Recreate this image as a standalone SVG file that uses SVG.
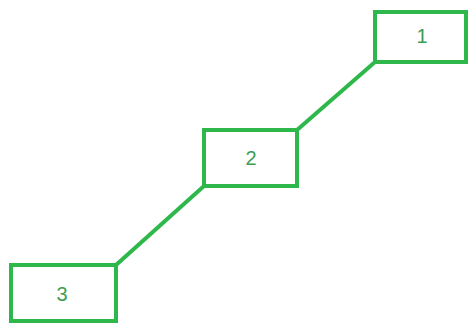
<svg xmlns="http://www.w3.org/2000/svg" width="468" height="325" viewBox="0 0 468 325">
<style>
.box{fill:none;stroke:#2eb84b;stroke-width:4}
.edge{stroke:#2eb84b;stroke-width:4;fill:none}
.lbl{font-family:"Liberation Sans",Arial,sans-serif;font-size:20px;fill:#3c9c55;text-anchor:middle;dominant-baseline:central}
</style>
<rect width="468" height="325" fill="#ffffff"/>
<g id="connectors">
<line class="edge" x1="375" y1="62" x2="297" y2="130"/>
<line class="edge" x1="204" y1="186" x2="116" y2="265"/>
</g>
<g id="node1">
<rect class="box" x="375" y="12" width="91" height="50"/>
<text class="lbl" x="422" y="36">1</text>
</g>
<g id="node2">
<rect class="box" x="204" y="130" width="93" height="56"/>
<text class="lbl" x="251" y="158">2</text>
</g>
<g id="node3">
<rect class="box" x="11" y="265" width="105" height="56"/>
<text class="lbl" x="62" y="294">3</text>
</g>
</svg>
